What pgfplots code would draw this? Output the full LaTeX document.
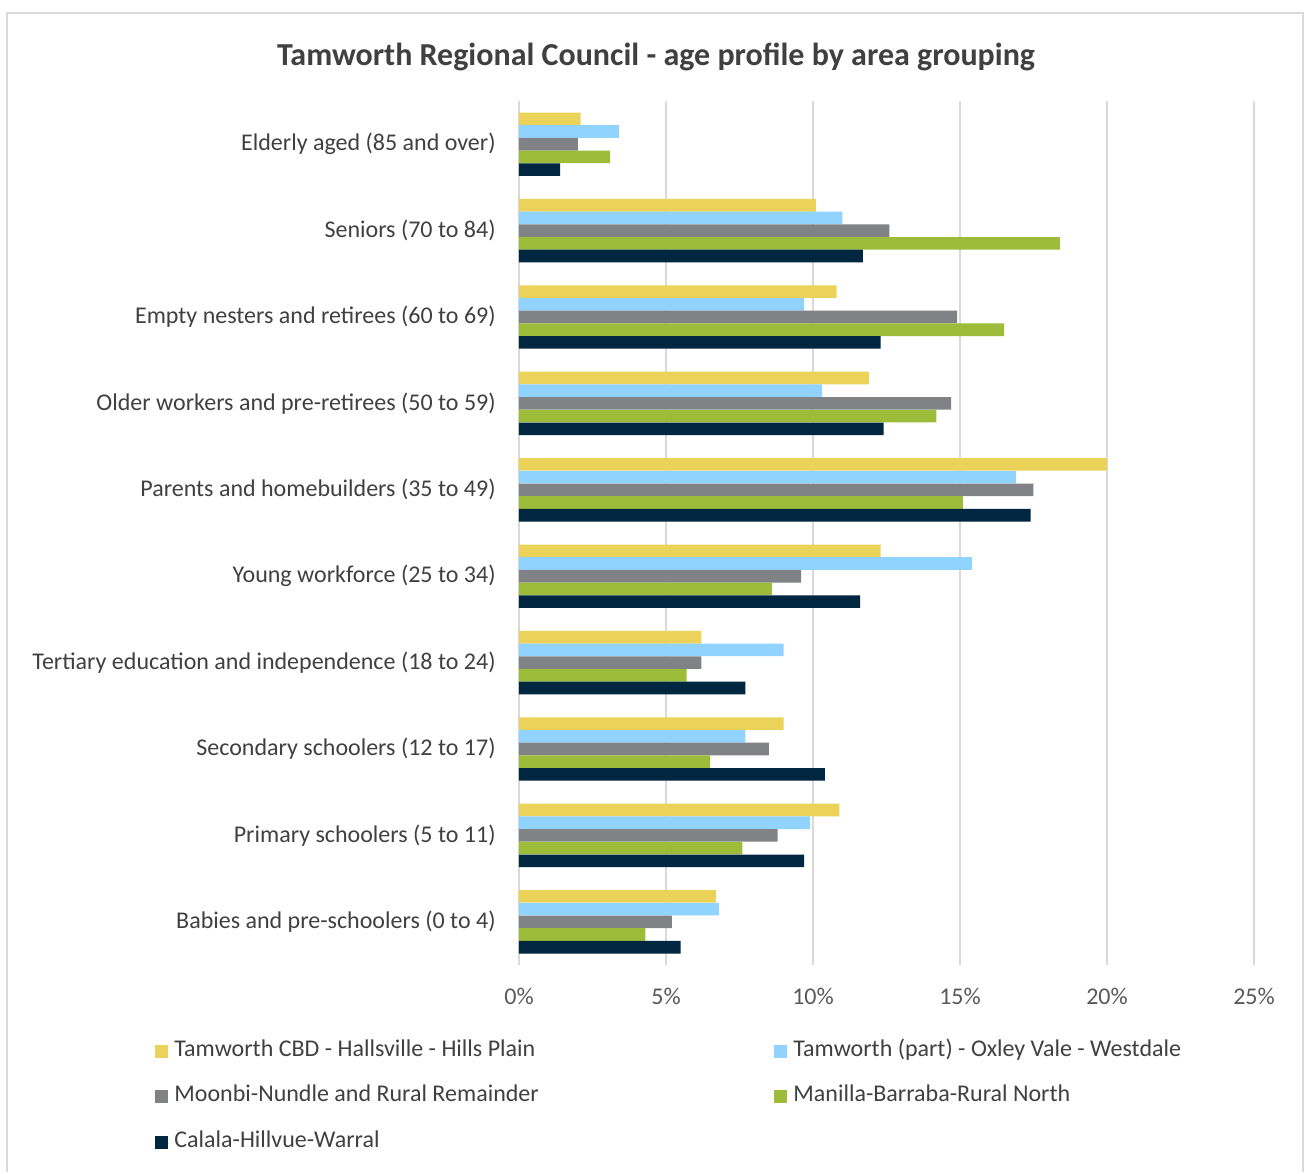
\documentclass[border=0pt]{standalone}
\usepackage{pgfplots}
\pgfplotsset{compat=1.18}
\usepackage{fontspec}
\setmainfont{Carlito}
\definecolor{cY}{HTML}{EBD35A}
\definecolor{cB}{HTML}{8FD3FE}
\definecolor{cG}{HTML}{818285}
\definecolor{cN}{HTML}{9DBD3A}
\definecolor{cD}{HTML}{002640}
\definecolor{txt}{HTML}{404040}
\definecolor{tick}{HTML}{595959}
\definecolor{grid}{HTML}{D9D9D9}
\begin{document}
\begin{tikzpicture}
\fill[white] (-259.5pt,-103.5pt) rectangle (393pt,482.5pt);
\draw[grid, line width=1pt] (-256pt,-103.5pt) -- (-256pt,476pt) -- (392pt,476pt) -- (392pt,-103.5pt);
\node[font=\bfseries\fontsize{16}{19}\selectfont, text=txt] at (68.5pt,454pt) {Tamworth Regional Council - age profile by area grouping};
\begin{axis}[
  at={(0pt,0pt)}, anchor=south west,
  scale only axis, width=367.5pt, height=432pt,
  xmin=0, xmax=25, ymin=-0.5, ymax=9.5,
  xbar, bar width=6.3pt,
  axis line style={draw=none},
  major tick length=0pt,
  xmajorgrids, grid style={line width=1pt, draw=grid},
  xtick={0,5,10,15,20,25},
  xticklabel={\pgfmathprintnumber{\tick}\%},
  xticklabel style={font=\fontsize{12}{14}\selectfont, text=tick, anchor=center, yshift=-15.5pt},
  ytick={0,1,2,3,4,5,6,7,8,9},
  yticklabels={Babies and pre-schoolers (0 to 4),Primary schoolers (5 to 11),Secondary schoolers (12 to 17),Tertiary education and independence (18 to 24),Young workforce (25 to 34),Parents and homebuilders (35 to 49),Older workers and pre-retirees (50 to 59),Empty nesters and retirees (60 to 69),Seniors (70 to 84),Elderly aged (85 and over)},
  yticklabel style={font=\fontsize{12}{14}\selectfont, text=txt, anchor=east, inner sep=0pt, xshift=-11.5pt},
  /pgf/number format/assume math mode=true,
  legend columns=2,
  legend cell align=left,
  legend image code/.code={\fill[#1] (0pt,-3.2pt) rectangle (6.5pt,3.2pt);},
  legend style={at={(-0.4952,-0.089)}, anchor=north west, draw=none, fill=none, inner sep=0pt,
    font=\fontsize{12}{14}\selectfont, text=txt, row sep=13.75pt,
    nodes={inner sep=0pt, text height=7pt, text depth=2pt},
    /tikz/every odd column/.append style={column sep=3pt}},
]
\addplot[fill=cY, draw=none, bar shift=12.7pt] coordinates {(6.7,0) (10.9,1) (9.0,2) (6.2,3) (12.3,4) (20.0,5) (11.9,6) (10.8,7) (10.1,8) (2.1,9)};
\addplot[fill=cB, draw=none, bar shift=6.35pt] coordinates {(6.8,0) (9.9,1) (7.7,2) (9.0,3) (15.4,4) (16.9,5) (10.3,6) (9.7,7) (11.0,8) (3.4,9)};
\addplot[fill=cG, draw=none, bar shift=0pt] coordinates {(5.2,0) (8.8,1) (8.5,2) (6.2,3) (9.6,4) (17.5,5) (14.7,6) (14.9,7) (12.6,8) (2.0,9)};
\addplot[fill=cN, draw=none, bar shift=-6.35pt] coordinates {(4.3,0) (7.6,1) (6.5,2) (5.7,3) (8.6,4) (15.1,5) (14.2,6) (16.5,7) (18.4,8) (3.1,9)};
\addplot[fill=cD, draw=none, bar shift=-12.7pt] coordinates {(5.5,0) (9.7,1) (10.4,2) (7.7,3) (11.6,4) (17.4,5) (12.4,6) (12.3,7) (11.7,8) (1.4,9)};
\legend{\makebox[300pt][l]{Tamworth CBD - Hallsville - Hills Plain},Tamworth (part) - Oxley Vale - Westdale,\makebox[300pt][l]{Moonbi-Nundle and Rural Remainder},Manilla-Barraba-Rural North,\makebox[300pt][l]{Calala-Hillvue-Warral}}
\end{axis}
\end{tikzpicture}
\end{document}
